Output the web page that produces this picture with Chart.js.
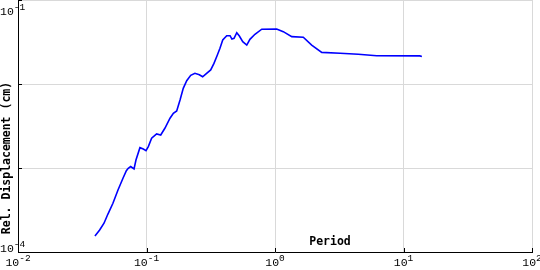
<!DOCTYPE html>
<html>
<head>
<meta charset="UTF-8">
<title>Response spectrum</title>
<style>
  html, body { margin: 0; padding: 0; background: #fff; }
  #wrap { width: 540px; height: 270px; }
</style>
</head>
<body>
<div id="wrap"><canvas id="chart"></canvas></div>
<script src="https://cdn.jsdelivr.net/npm/chart.js@4/dist/chart.umd.min.js"></script>
<script>
// period (s) and relative displacement (cm)
const period = [0.0397, 0.0432, 0.0467, 0.0501, 0.0548, 0.0600, 0.0656, 0.0697, 0.0721, 0.0753,
  0.0800, 0.0828, 0.0889, 0.0944, 0.0991, 0.1033, 0.1096, 0.1199, 0.129, 0.139,
  0.1524, 0.1618, 0.1718, 0.1824, 0.1932, 0.2056, 0.2208, 0.2382, 0.2576, 0.2735,
  0.2937, 0.316, 0.335, 0.356, 0.373, 0.392, 0.421, 0.447, 0.462, 0.480,
  0.504, 0.528, 0.561, 0.603, 0.638, 0.698, 0.789, 1.03, 1.16, 1.35,
  1.66, 1.93, 2.31, 3.21, 4.45, 6.18, 13.4, 13.9];
const disp = [1.55e-4, 1.83e-4, 2.20e-4, 2.83e-4, 3.80e-4, 5.47e-4, 7.54e-4, 9.29e-4, 9.91e-4, 1.04e-3,
  9.73e-4, 1.245e-3, 1.745e-3, 1.68e-3, 1.61e-3, 1.795e-3, 2.26e-3, 2.54e-3, 2.47e-3, 2.97e-3,
  3.91e-3, 4.48e-3, 4.77e-3, 6.45e-3, 8.89e-3, 1.094e-2, 1.27e-2, 1.34e-2, 1.29e-2, 1.22e-2,
  1.34e-2, 1.47e-2, 1.76e-2, 2.21e-2, 2.66e-2, 3.34e-2, 3.76e-2, 3.76e-2, 3.43e-2, 3.50e-2,
  4.08e-2, 3.73e-2, 3.19e-2, 2.91e-2, 3.40e-2, 3.91e-2, 4.49e-2, 4.52e-2, 4.20e-2, 3.66e-2,
  3.60e-2, 2.91e-2, 2.38e-2, 2.32e-2, 2.26e-2, 2.17e-2, 2.16e-2, 2.13e-2];

const xExp = [-2, -1, 0, 1, 2];
const yExp = [-4, -3, -2, -1];
const yExpShown = [-4, -1];

const points = period.map((p, i) => ({ x: p, y: disp[i] }));

// draws 10^n labels, axis titles and the little inner ticks
const decor = {
  id: "decor",
  afterDraw(chart) {
    const ctx = chart.ctx;
    const xs = chart.scales.x, ys = chart.scales.y;
    const area = chart.chartArea;
    ctx.save();

    // inner ticks
    ctx.strokeStyle = "#000";
    ctx.lineWidth = 1;
    ctx.beginPath();
    xExp.forEach(e => {
      const px = Math.round(xs.getPixelForValue(Math.pow(10, e))) + 0.5;
      ctx.moveTo(px, area.bottom);
      ctx.lineTo(px, area.bottom - 4);
    });
    yExp.forEach(e => {
      const py = Math.round(ys.getPixelForValue(Math.pow(10, e))) + 0.5;
      ctx.moveTo(area.left, py);
      ctx.lineTo(area.left + 4, py);
    });
    ctx.stroke();

    ctx.fillStyle = "#000";
    ctx.textBaseline = "alphabetic";
    const big = "11.5px 'Liberation Mono'";
    const small = "9.5px 'Liberation Mono'";

    function label(e, cx, base, align) {
      ctx.font = big;
      const w1 = ctx.measureText("10").width;
      ctx.font = small;
      const w2 = ctx.measureText(String(e)).width;
      let left = align === "center" ? cx - (w1 + w2) / 2 : cx;
      ctx.font = big;
      ctx.textAlign = "left";
      ctx.fillText("10", left, base);
      ctx.font = small;
      ctx.fillText(String(e), left + w1, base - 5);
    }

    xExp.forEach(e => {
      const px = xs.getPixelForValue(Math.pow(10, e));
      label(e, Math.max(px, 16), 266, "center");
    });
    label(yExpShown[1], 0, 15, "left");
    label(yExpShown[0], 0, 252, "left");

    // axis titles
    ctx.font = "bold 11.5px 'DejaVu Sans Mono'";
    ctx.textAlign = "center";
    ctx.textBaseline = "middle";
    ctx.fillText("Period", 330, 242);
    ctx.translate(7.5, 158);
    ctx.rotate(-Math.PI / 2);
    ctx.fillText("Rel. Displacement (cm)", 0, 0);
    ctx.restore();
  }
};

new Chart(document.getElementById("chart"), {
  type: "line",
  data: {
    datasets: [{
      data: points,
      borderColor: "#0000ff",
      borderWidth: 1.6,
      pointRadius: 0,
      tension: 0,
      fill: false
    }]
  },
  options: {
    responsive: true,
    maintainAspectRatio: false,
    animation: false,
    layout: { padding: { left: 0, right: 8, top: 0, bottom: 0 } },
    plugins: { legend: { display: false }, tooltip: { enabled: false } },
    scales: {
      x: {
        type: "logarithmic",
        min: 0.01,
        max: 100,
        afterBuildTicks: s => { s.ticks = xExp.map(e => ({ value: Math.pow(10, e) })); },
        afterFit: s => { s.height = 18; },
        ticks: { display: false },
        grid: { color: "#d9d9d9", drawTicks: false, lineWidth: 1 },
        border: { color: "#000", width: 1 }
      },
      y: {
        type: "logarithmic",
        min: 1e-4,
        max: 1e-1,
        afterBuildTicks: s => { s.ticks = yExp.map(e => ({ value: Math.pow(10, e) })); },
        afterFit: s => { s.width = 18; },
        ticks: { display: false },
        grid: { color: "#d9d9d9", drawTicks: false, lineWidth: 1 },
        border: { color: "#000", width: 1 }
      }
    }
  },
  plugins: [decor]
});
</script>
</body>
</html>
